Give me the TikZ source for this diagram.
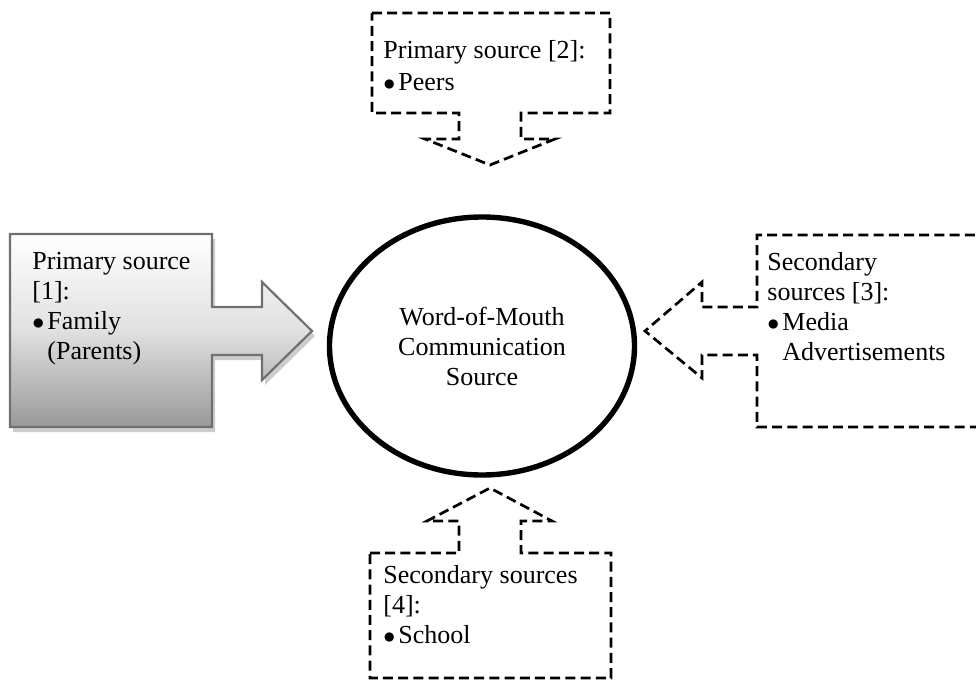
\documentclass[tikz,border=0pt]{standalone}
\usepackage{fontspec}
\setmainfont{Liberation Serif}
\usetikzlibrary{shapes.geometric,shadows}
\definecolor{edgeGray}{RGB}{112,112,112}
\definecolor{shadeLow}{RGB}{153,153,153}
\definecolor{shadowGray}{RGB}{205,205,205}
\tikzset{
  callout/.style={draw,line width=1.35pt,dash pattern=on 5pt off 2.6pt},
  solidcall/.style={draw=edgeGray,line width=1.1pt,top color=white,
                    bottom color=shadeLow,middle color=black!12,
                    drop shadow={shadow xshift=1.5pt,shadow yshift=-2.5pt,
                                 fill=shadowGray,opacity=1}},
  txt/.style={anchor=north west,inner sep=0pt,align=left},
  hub/.style={ellipse,draw,line width=2.7pt,minimum width=152.5pt,
              minimum height=129pt,align=center,inner sep=0pt},
}
\newcommand{\bul}{\makebox[7.5pt][l]{$\bullet$}}
\newcommand{\bulgap}{\hspace*{7.5pt}}

\begin{document}
\begin{tikzpicture}[x=0.5pt,y=-0.5pt,font=\fontsize{13}{15}\selectfont]
  \clip (0,0) rectangle (976,680);
  % --- centre: the communication source ---
  \node[hub] (wom) at (482,346) {Word-of-Mouth\\Communication\\Source};
  % --- left: family, shaded arrow callout ---
  \path[solidcall] (10,234) -- (212,234) -- (212,307) -- (262,307) -- (262,282)
      -- (312,331) -- (262,380) -- (262,355) -- (212,355) -- (212,427)
      -- (10,427) -- cycle;
  \node[txt] (fam) at (32,252) {Primary source\\{[1]:}\\\bul Family\\\bulgap(Parents)};
  % --- top: peers, pointing down ---
  \path[callout] (372,13) -- (610,13) -- (610,113) -- (521,113) -- (521,139)
      -- (555,139) -- (490,165) -- (425,139) -- (459,139) -- (459,113)
      -- (372,113) -- cycle;
  \node[txt] (peers) at (383,40) {Primary source [2]:\\[1pt]\bul Peers};
  % --- right: media, pointing left (box runs off the edge) ---
  \path[callout] (990,235) -- (757,235) -- (757,307) -- (702,307) -- (702,282)
      -- (645,331) -- (702,378) -- (702,355) -- (757,355) -- (757,427)
      -- (990,427);
  \node[txt] (media) at (767,252) {Secondary\\sources [3]:\\\bul Media\\\bulgap Advertisements};
  % --- bottom: school, pointing up ---
  \path[callout] (370,553) -- (459,553) -- (459,521) -- (427,521) -- (490,488)
      -- (552,521) -- (521,521) -- (521,553) -- (611,553) -- (611,678)
      -- (370,678) -- cycle;
  \node[txt] (school) at (383,565) {Secondary sources\\{[4]:}\\\bul School};
\end{tikzpicture}
\end{document}
